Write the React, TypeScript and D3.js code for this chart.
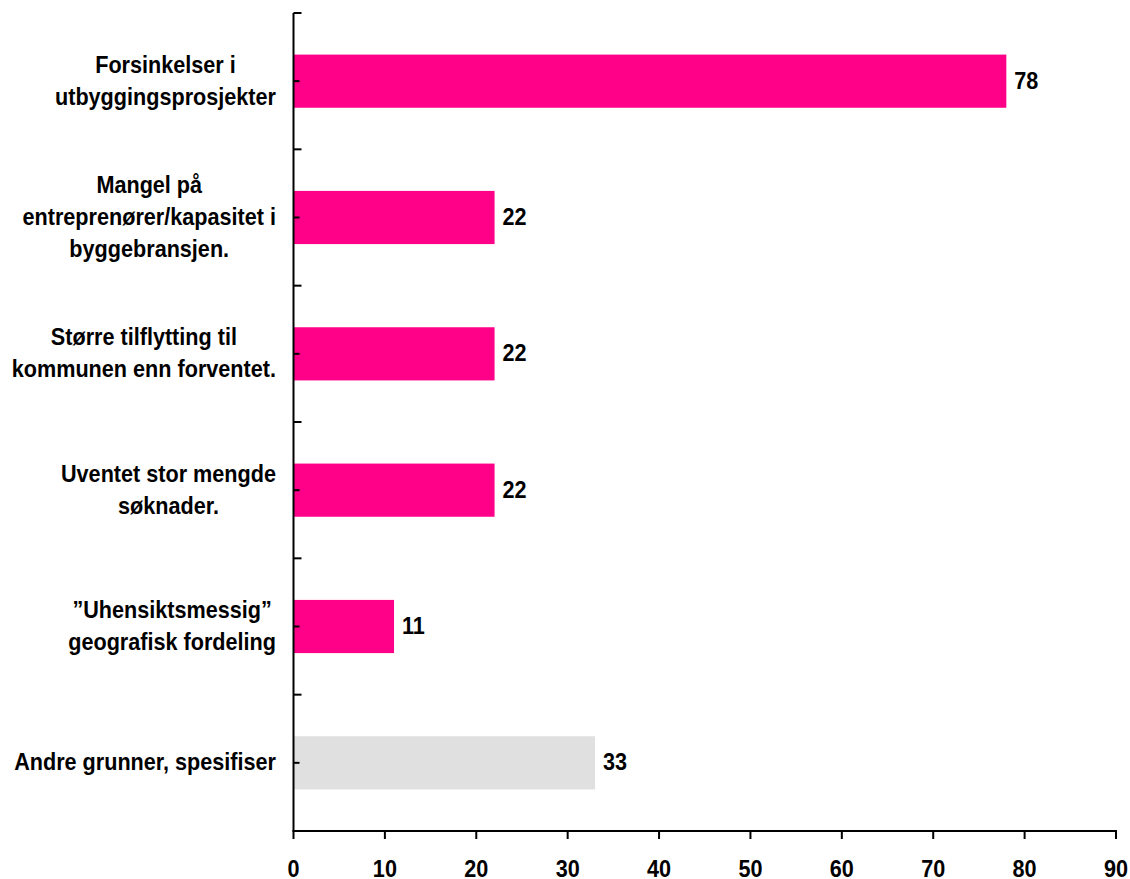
import React from "react";
import * as d3 from "d3";

const categories: string[] = [
  "Forsinkelser i\nutbyggingsprosjekter",
  "Mangel på\nentreprenører/kapasitet i\nbyggebransjen.",
  "Større tilflytting til\nkommunen enn forventet.",
  "Uventet stor mengde\nsøknader.",
  "”Uhensiktsmessig”\ngeografisk fordeling",
  "Andre grunner, spesifiser",
];
const values: number[] = [78, 22, 22, 22, 11, 33];
const isOther: boolean[] = [false, false, false, false, false, true];
const xTicks: number[] = [0, 10, 20, 30, 40, 50, 60, 70, 80, 90];

const W = 1130;
const H = 879;
const X0 = 293.5;
const X1 = 1116;
const Y0 = 13;
const Y1 = 831;
const FONT = "'Liberation Sans', Arial, Helvetica, sans-serif";
const FS = 23;
const SX = 0.94;
const PINK = "#FF0088";
const GREY = "#E0E0E0";

let ctx: CanvasRenderingContext2D | null = null;
function measure(s: string): number {
  if (!ctx) {
    const c = document.createElement("canvas");
    ctx = c.getContext("2d");
  }
  if (!ctx) return s.length * FS * 0.55;
  ctx.font = `bold ${FS}px ${FONT}`;
  return ctx.measureText(s).width * SX;
}

export default function App() {
  const x = d3.scaleLinear().domain([0, 90]).range([X0, X1]);
  const y = d3
    .scaleBand<number>()
    .domain(d3.range(categories.length))
    .range([Y0, Y1])
    .paddingInner(0.61)
    .paddingOuter(0.305);
  const step = y.step();
  const bw = y.bandwidth();
  const labelRight = 276;
  const lineH = 32;

  const txt = (s: string, tx: number, ty: number, anchor: string, key?: string) => (
    <text
      key={key}
      transform={`translate(${tx},${ty}) scale(${SX},1)`}
      textAnchor={anchor}
      fontFamily={FONT}
      fontWeight="bold"
      fontSize={FS}
      fill="#000"
    >
      {s}
    </text>
  );

  return (
    <svg
      width={W}
      height={H}
      style={{ position: "absolute", left: 0, top: 0, background: "#fff" }}
    >
      <rect x={0} y={0} width={W} height={H} fill="#fff" />
      {values.map((v, i) => (
        <rect
          key={"b" + i}
          x={x(0)}
          y={y(i)!}
          width={x(v) - x(0)}
          height={bw}
          fill={isOther[i] ? GREY : PINK}
        />
      ))}
      {/* y axis */}
      <line x1={X0} y1={Y0} x2={X0} y2={Y1} stroke="#000" strokeWidth={2} />
      {d3.range(categories.length + 1).map((i) => (
        <line
          key={"yt" + i}
          x1={X0}
          x2={X0 + 8}
          y1={Y0 + i * step}
          y2={Y0 + i * step}
          stroke="#000"
          strokeWidth={2}
        />
      ))}
      {categories.map((_, i) => {
        const cy = y(i)! + bw / 2;
        return (
          <line key={"yc" + i} x1={X0} x2={X0 + 6} y1={cy} y2={cy} stroke="#000" strokeWidth={2} />
        );
      })}
      {/* x axis */}
      <line x1={X0 - 1} y1={Y1} x2={X1 + 1} y2={Y1} stroke="#000" strokeWidth={2} />
      {xTicks.map((t) => (
        <g key={"xt" + t}>
          <line x1={x(t)} x2={x(t)} y1={Y1} y2={Y1 + 8} stroke="#000" strokeWidth={2} />
          {txt(String(t), x(t), 877, "middle")}
        </g>
      ))}
      {/* category labels */}
      {categories.map((c, i) => {
        const lines = c.split("\n");
        const maxW = Math.max(...lines.map(measure));
        const cx = labelRight - maxW / 2;
        const cy = y(i)! + bw / 2;
        const n = lines.length;
        return (
          <g key={"c" + i}>
            {lines.map((l, j) =>
              txt(l, cx, cy + (j - (n - 1) / 2) * lineH + 7.5, "middle", "l" + j)
            )}
          </g>
        );
      })}
      {/* value labels */}
      {values.map((v, i) => (
        <g key={"v" + i}>{txt(String(v), x(v) + 8, y(i)! + bw / 2 + 7.5, "start")}</g>
      ))}
    </svg>
  );
}
